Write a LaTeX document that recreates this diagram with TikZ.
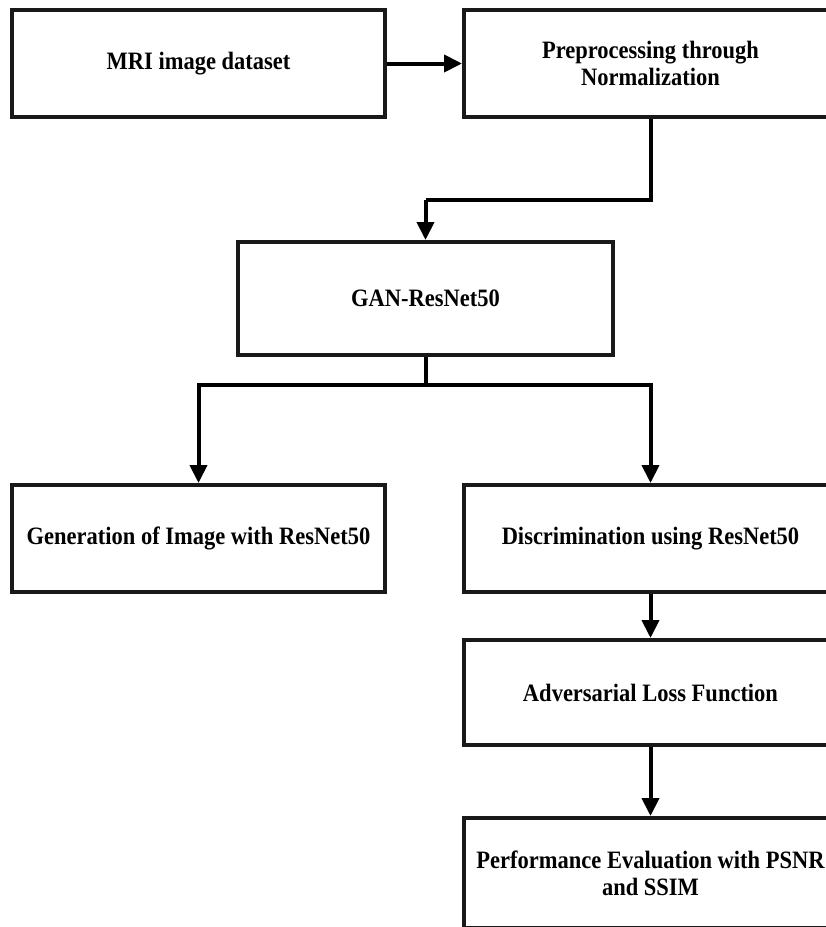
\documentclass[tikz,border=0pt]{standalone}
\usepackage{fontspec}
\setmainfont{Liberation Serif}
\newfontfamily\boxfont{Liberation Serif}[FakeStretch=0.9]
\usetikzlibrary{arrows.meta}
\begin{document}
\begin{tikzpicture}[x=1pt,y=-1pt,
  box/.style={draw=black!90, line width=4pt, fill=white, minimum width=373pt, minimum height=107pt,
    inner sep=0pt, align=center, font=\boxfont\fontsize{25}{27}\selectfont\bfseries},
  arr/.style={line width=4pt, -{Triangle[length=18pt,width=17pt]}},
  ln/.style={line width=4pt}]
\useasboundingbox (0,0) rectangle (826,927);
\clip (0,0) rectangle (826,927);
\node[box] (mri) at (198.5,63.5) {MRI image dataset};
\node[box] (pre) at (650.5,63.5) {Preprocessing through\\Normalization};
\node[box, minimum width=375pt, minimum height=113pt] (gan) at (425.5,298.5) {GAN-ResNet50};
\node[box] (gen) at (198.5,538.5) {Generation of Image with ResNet50};
\node[box] (dis) at (650.5,538.5) {Discrimination using ResNet50};
\node[box, minimum height=105pt] (adv) at (650.5,692.5) {Adversarial Loss Function};
\node[box, minimum height=110pt] (perf) at (650.5,873) {Performance Evaluation with PSNR\\and SSIM};
\coordinate (j1) at (425.5,200);
\coordinate (j2) at (425.5,385);
\draw[arr] (mri.east) -- (pre.west);
\draw[ln] (pre.south) |- (j1);
\draw[arr] (j1) -- (gan.north);
\draw[ln] (gan.south) -- (j2);
\draw[arr] (j2) -| (gen.north);
\draw[arr] (j2) -| (dis.north);
\draw[arr] (dis.south) -- (adv.north);
\draw[arr] (adv.south) -- (perf.north);
\end{tikzpicture}
\end{document}
